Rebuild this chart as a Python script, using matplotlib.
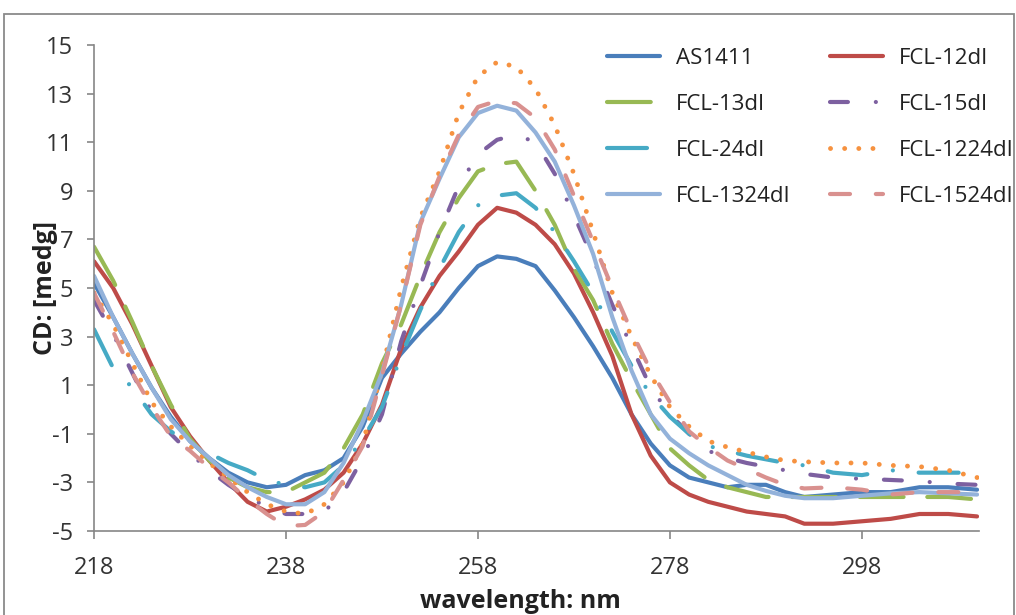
import matplotlib
matplotlib.use('Agg')
import matplotlib.pyplot as plt
import matplotlib.patches as mpatches

# wavelength grid (nm)
wavelength = [218, 220, 222, 224, 226, 228, 230, 232, 234, 236, 238, 240, 242, 244, 246,
              248, 250, 252, 254, 256, 258, 260, 262, 264, 266, 268, 270, 272, 274, 276,
              278, 280, 282, 284, 286, 288, 290, 292, 295, 298, 301, 304, 307, 310]

as1411 = [5.2, 3.8, 2.3, 0.9, -0.3, -1.3, -2.0, -2.6, -3.0, -3.2, -3.1, -2.7, -2.5, -2.0, -0.7,
          1.3, 2.3, 3.2, 4.0, 5.0, 5.9, 6.3, 6.2, 5.9, 4.9, 3.8, 2.6, 1.3, -0.2, -1.4,
          -2.3, -2.8, -3.0, -3.2, -3.1, -3.1, -3.4, -3.6, -3.5, -3.4, -3.4, -3.2, -3.2, -3.3]
fcl_12 = [6.1, 5.0, 3.5, 1.8, 0.1, -1.1, -2.1, -3.0, -3.8, -4.2, -4.0, -3.7, -3.3, -2.6, -1.4,
          0.2, 2.5, 4.2, 5.5, 6.5, 7.6, 8.3, 8.1, 7.6, 6.8, 5.6, 4.0, 2.2, -0.2, -1.9,
          -3.0, -3.5, -3.8, -4.0, -4.2, -4.3, -4.4, -4.7, -4.7, -4.6, -4.5, -4.3, -4.3, -4.4]
fcl_13 = [6.7, 5.3, 3.6, 1.8, 0.2, -1.2, -2.1, -2.8, -3.2, -3.4, -3.4, -3.0, -2.6, -1.6, -0.2,
          1.9, 3.5, 5.5, 7.3, 8.7, 9.8, 10.1, 10.2, 9.0, 7.6, 5.8, 4.5, 2.7, 1.2, -0.2,
          -1.6, -2.3, -2.9, -3.2, -3.4, -3.6, -3.6, -3.6, -3.6, -3.6, -3.6, -3.6, -3.6, -3.7]
fcl_15 = [4.5, 3.1, 1.5, -0.1, -1.0, -1.8, -2.5, -3.1, -3.6, -4.0, -4.3, -4.3, -4.2, -3.4, -2.0,
          -0.2, 2.8, 5.1, 7.3, 9.2, 10.5, 11.1, 11.3, 11.0, 9.7, 8.0, 6.2, 4.3, 2.6, 0.9,
          -0.2, -1.0, -1.7, -2.0, -2.2, -2.35, -2.5, -2.65, -2.8, -2.85, -2.9, -2.95, -3.05, -3.1]
fcl_24 = [3.3, 1.7, 0.9, -0.2, -0.9, -1.4, -1.8, -2.2, -2.5, -2.9, -3.1, -3.2, -3.0, -2.3, -1.2,
          0.1, 2.2, 4.1, 5.8, 7.3, 8.4, 8.8, 8.9, 8.3, 7.3, 6.1, 4.8, 3.2, 1.8, 0.6,
          -0.3, -1.0, -1.5, -1.7, -1.9, -2.05, -2.2, -2.3, -2.6, -2.7, -2.5, -2.6, -2.6, -2.6]
fcl_1224 = [4.8, 3.5, 1.9, 0.3, -0.7, -1.5, -2.2, -2.8, -3.4, -3.9, -4.2, -4.3, -3.9, -3.0, -1.4,
            1.6, 5.0, 7.9, 9.8, 12.2, 13.7, 14.3, 14.1, 13.2, 11.7, 9.7, 7.3, 4.8, 3.0, 1.4,
            0.1, -0.7, -1.3, -1.55, -1.75, -1.95, -2.1, -2.15, -2.2, -2.2, -2.3, -2.35, -2.5, -2.8]
fcl_1324 = [5.5, 3.8, 2.3, 0.9, -0.4, -1.3, -2.0, -2.7, -3.2, -3.6, -3.9, -3.9, -3.4, -2.2, -0.5,
            1.5, 4.3, 7.7, 9.5, 11.2, 12.2, 12.5, 12.3, 11.4, 10.2, 8.4, 6.4, 3.8, 1.6, -0.2,
            -1.2, -1.8, -2.3, -2.7, -3.1, -3.35, -3.55, -3.65, -3.65, -3.55, -3.45, -3.4, -3.45, -3.5]
fcl_1524 = [4.8, 3.2, 1.5, 0.1, -1.1, -1.7, -2.4, -3.0, -3.7, -4.3, -4.8, -4.75, -4.2, -2.9, -1.5,
            1.4, 4.3, 7.6, 9.6, 11.3, 12.45, 12.7, 12.6, 12.0, 10.7, 8.8, 6.9, 5.0, 3.2, 1.6,
            0.3, -0.9, -1.55, -2.1, -2.45, -2.8, -3.1, -3.25, -3.2, -3.3, -3.5, -3.4, -3.4, -3.4]

names = ['AS1411', 'FCL-12dI', 'FCL-13dI', 'FCL-15dI', 'FCL-24dI',
         'FCL-1224dI', 'FCL-1324dI', 'FCL-1524dI']
series = [as1411, fcl_12, fcl_13, fcl_15, fcl_24, fcl_1224, fcl_1324, fcl_1524]
x_ticks = [218, 238, 258, 278, 298]
y_ticks = [-5, -3, -1, 1, 3, 5, 7, 9, 11, 13, 15]

colors = ['#4A7EBB', '#BE4B48', '#98B954', '#7D60A0', '#46AAC5',
          '#F69240', '#93B2DA', '#D9918F']
widths = [3.0, 3.0, 3.0, 3.0, 3.0, 3.5, 3.0, 3.0]
styles = ['-', '-', (0, (10.5, 5.7)), (0, (4.3, 6.7, 0.01, 6.7)),
          (0, (9.6, 6.2, 0.01, 6.2)), (0, (0.01, 2.9)), '-', (0, (4.8, 6.2))]

plt.rcParams['font.family'] = ['Open Sans', 'DejaVu Sans']
plt.rcParams['axes.unicode_minus'] = False
W, H = 1016, 615
fig = plt.figure(figsize=(W / 100, H / 100), dpi=100)
ax = fig.add_axes([94 / W, 1 - 531 / H, (979 - 94) / W, (531 - 45) / H])

lines = {}
for name, vals, c, ls, w in zip(names, series, colors, styles, widths):
    ln, = ax.plot(wavelength, vals, color=c, linestyle=ls, lw=w,
                  dash_capstyle='round', solid_capstyle='round', label=name)
    lines[name] = ln

ax.set_xlim(218, 310.2)
ax.set_ylim(-5, 15)
ax.set_xticks(x_ticks)
ax.set_yticks(y_ticks)
ax.tick_params(axis='x', length=6, width=1.2, color='#868686', pad=12,
               labelsize=17, labelcolor='#333333')
ax.tick_params(axis='y', length=5, width=1.2, color='#868686', pad=10,
               labelsize=17, labelcolor='#333333')
for s in ['top', 'right']:
    ax.spines[s].set_visible(False)
for s in ['left', 'bottom']:
    ax.spines[s].set_color('#868686')
    ax.spines[s].set_linewidth(1.2)

fig.text(45 / W, 1 - 288 / H, 'CD: [medg]', rotation=90, ha='center', va='center',
         fontsize=18, fontweight='bold', color='#222222')
fig.text(520 / W, 1 - 601 / H, 'wavelength: nm', ha='center', va='center',
         fontsize=18, fontweight='bold', color='#222222')

order = ['AS1411', 'FCL-13dI', 'FCL-24dI', 'FCL-1324dI',
         'FCL-12dI', 'FCL-15dI', 'FCL-1224dI', 'FCL-1524dI']
fig.legend([lines[n] for n in order], order, ncol=2, frameon=False,
           loc='upper left', bbox_to_anchor=(607 / W, 1 - 48 / H),
           borderpad=0, borderaxespad=0, handlelength=2.4, handletextpad=0.72,
           columnspacing=1.75, labelspacing=1.12, prop={'size': 16},
           labelcolor='#222222')

fig.patches.append(mpatches.Rectangle((4 / W, -0.05), 1010 / W, 1 - 14 / H + 0.05,
                                      transform=fig.transFigure, fill=False,
                                      ec='#8a8a8a', lw=1.3))

fig.savefig('out.png', dpi=100)
